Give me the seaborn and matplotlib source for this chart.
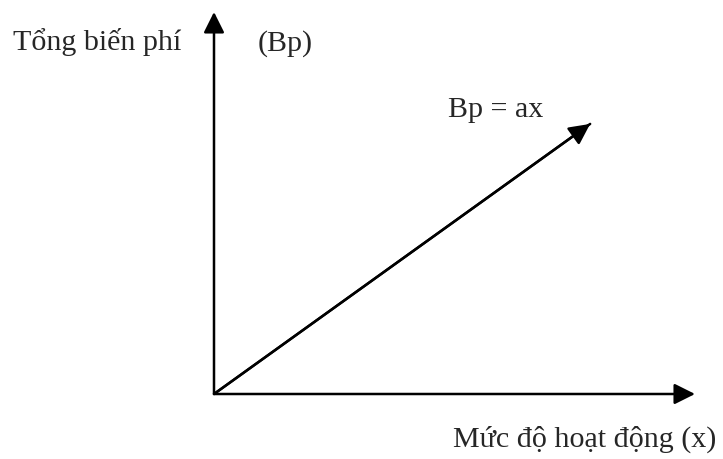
import seaborn as sns
import matplotlib.pyplot as plt

# Dữ liệu: đường tổng biến phí Bp = ax
muc_do = [0, 7.82]       # mức độ hoạt động (x)
bien_phi = [0, 7.07]     # tổng biến phí (Bp)
truc_x = [0, 10]
truc_y = [0, 10]

sns.set_theme(style="white")
plt.rcParams['font.family'] = ['Liberation Serif', 'DejaVu Serif']

fig = plt.figure(figsize=(7.23, 4.59), dpi=100)
ax = fig.add_axes([214 / 723, 65 / 459, 481 / 723, 382 / 459])
ax.set_xlim(truc_x)
ax.set_ylim(truc_y)
ax.axis('off')

mui_ten = dict(arrowstyle='-|>,head_length=0.9,head_width=0.45', color='black',
               lw=1.8, shrinkA=0, shrinkB=0, mutation_scale=14)

# Trục hoành và trục tung
ax.annotate('', xy=(truc_x[1], 0), xytext=(truc_x[0], 0), arrowprops=mui_ten,
            annotation_clip=False)
ax.annotate('', xy=(0, truc_y[1]), xytext=(0, truc_y[0]), arrowprops=mui_ten,
            annotation_clip=False)

# Đường Bp = ax
sns.lineplot(x=muc_do, y=bien_phi, ax=ax, color='black', lw=1.8)
ax.annotate('', xy=(muc_do[1], bien_phi[1]), xytext=(muc_do[0], bien_phi[0]),
            arrowprops=mui_ten, annotation_clip=False)

fs = 21.6
ax.text(-4.18, 9.0, 'Tổng biến phí', fontsize=fs, ha='left', va='baseline')
ax.text(0.9, 9.0, '(Bp)', fontsize=fs, ha='left', va='baseline')
ax.text(4.86, 7.25, 'Bp = ax', fontsize=fs, ha='left', va='baseline')
ax.text(10.45, -1.39, 'Mức độ hoạt động (x)', fontsize=fs, ha='right', va='baseline')

plt.savefig('out.png', dpi=100)
